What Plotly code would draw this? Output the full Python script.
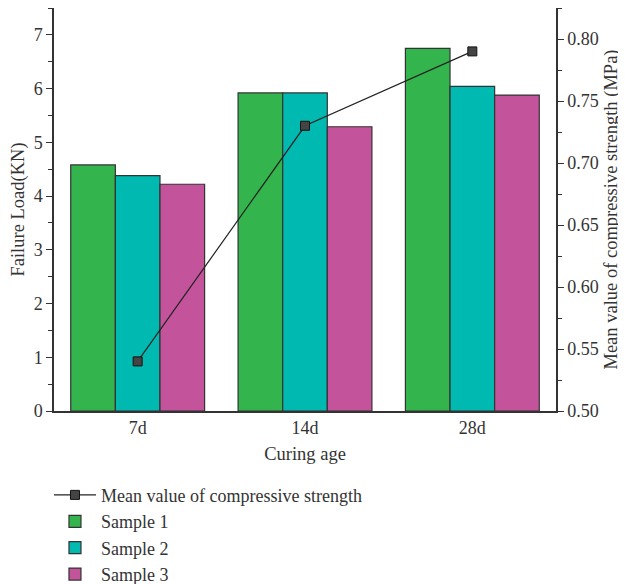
import plotly.graph_objects as go

categories = ["7d", "14d", "28d"]
sample1 = [4.58, 5.92, 6.75]
sample2 = [4.38, 5.92, 6.04]
sample3 = [4.22, 5.29, 5.88]
mean_strength = [0.54, 0.73, 0.79]

colors = ["#33B44D", "#00B9B0", "#C3549C"]
FONT = "Liberation Serif"
TXT = "#333333"

fig = go.Figure()
fig.add_trace(go.Scatter(
    x=categories, y=mean_strength, yaxis="y2", mode="lines+markers",
    name="Mean value of compressive strength",
    line=dict(color="#222222", width=1.2),
    marker=dict(symbol="square", size=9, color="#444444", line=dict(color="#111111", width=1)),
))
for name, vals, c in zip(["Sample 1", "Sample 2", "Sample 3"], [sample1, sample2, sample3], colors):
    fig.add_trace(go.Bar(
        x=categories, y=vals, name=name,
        marker=dict(color=c, line=dict(color="#333333", width=1.2)),
    ))

fig.update_layout(
    width=618, height=576,
    margin=dict(l=46, r=70, t=0, b=173, autoexpand=False),
    paper_bgcolor="white", plot_bgcolor="white",
    font=dict(family=FONT, size=18, color=TXT),
    barmode="group", bargap=0.2, bargroupgap=0,
    showlegend=True,
    legend=dict(
        orientation="v", x=-0.01, xanchor="left", y=-0.163, yanchor="top",
        font=dict(family=FONT, size=18, color=TXT),
        itemwidth=42, tracegroupgap=0, traceorder="normal",
        bgcolor="rgba(0,0,0,0)",
    ),
    xaxis=dict(
        range=[-0.5, 2.5], showline=True, linecolor="#333333", linewidth=1.5,
        mirror=True, ticks="", showgrid=False, zeroline=False, automargin=False,
        title=dict(text="Curing age", font=dict(size=18.5), standoff=10),
        tickfont=dict(size=18),
    ),
    yaxis=dict(
        range=[0, 7.5], dtick=1, showline=True, linecolor="#333333", linewidth=1.5,
        ticks="outside", ticklen=6, tickwidth=1.2, tickcolor="#333333",
        minor=dict(ticks="outside", ticklen=4, dtick=0.5, tickcolor="#333333"),
        showgrid=False, zeroline=False, automargin=False,
        title=dict(text="Failure Load(KN)", font=dict(size=18.5), standoff=8),
        tickfont=dict(size=18),
    ),
    yaxis2=dict(
        range=[0.5, 0.825], dtick=0.05, tickformat=".2f", overlaying="y", side="right",
        showline=True, linecolor="#333333", linewidth=1.5,
        ticks="outside", ticklen=6, tickwidth=1.2, tickcolor="#333333",
        minor=dict(ticks="outside", ticklen=4, dtick=0.025, tickcolor="#333333"),
        showgrid=False, zeroline=False, automargin=False,
        title=dict(text="Mean value of compressive strength (MPa)", font=dict(size=18.5), standoff=6),
        tickfont=dict(size=18),
    ),
)

fig.write_html("out.html")
